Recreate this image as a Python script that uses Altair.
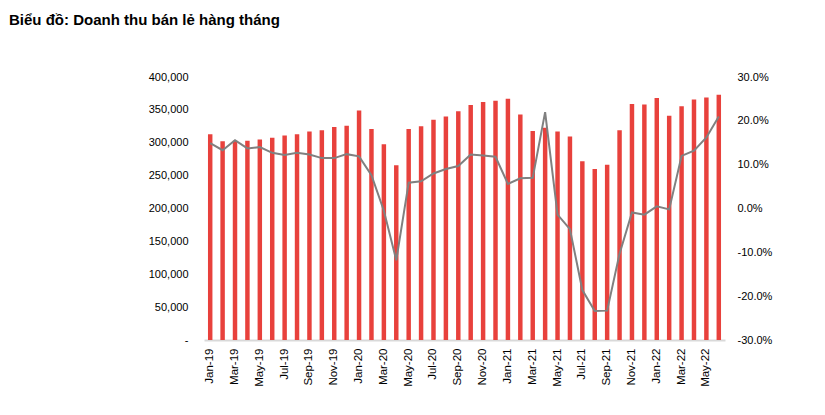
import altair as alt
import pandas as pd

months = ["Jan-19","Feb-19","Mar-19","Apr-19","May-19","Jun-19","Jul-19","Aug-19","Sep-19","Oct-19","Nov-19","Dec-19",
          "Jan-20","Feb-20","Mar-20","Apr-20","May-20","Jun-20","Jul-20","Aug-20","Sep-20","Oct-20","Nov-20","Dec-20",
          "Jan-21","Feb-21","Mar-21","Apr-21","May-21","Jun-21","Jul-21","Aug-21","Sep-21","Oct-21","Nov-21","Dec-21",
          "Jan-22","Feb-22","Mar-22","Apr-22","May-22","Jun-22"]

revenue = [313100, 302400, 303000, 303000, 305000, 307500, 311000, 313000, 317000, 319000, 324000, 326000,
           349000, 321000, 297800, 265600, 321000, 325000, 335000, 340000, 348000, 357600, 362000, 364000,
           367000, 343000, 318000, 323000, 317000, 309600, 272000, 260000, 266700, 319000, 359000, 358000,
           368000, 341000, 355600, 365800, 369000, 373000]

growth = [0.149, 0.133, 0.156, 0.137, 0.140, 0.127, 0.122, 0.127, 0.123, 0.115, 0.115, 0.124,
          0.119, 0.076, -0.005, -0.118, 0.059, 0.062, 0.080, 0.090, 0.097, 0.123, 0.121, 0.118,
          0.056, 0.069, 0.070, 0.220, -0.014, -0.047, -0.186, -0.234, -0.233, -0.103, -0.009, -0.014,
          0.005, -0.002, 0.120, 0.132, 0.162, 0.210]

tick_months = months[::2]

df = pd.DataFrame({"month": months, "revenue": revenue, "growth": growth})

FONT = "Liberation Sans, Arial, sans-serif"

x = alt.X("month:N", sort=None, title=None,
          scale=alt.Scale(paddingInner=0.64, paddingOuter=0.32),
          axis=alt.Axis(values=tick_months, labelAngle=-90, labelFontSize=11.5, labelFont=FONT,
                        labelColor="#000000", ticks=False, domainColor="#d9d9d9", domainWidth=2,
                        labelPadding=8, grid=False))

bars = alt.Chart(df).mark_bar(color="#e8413c").encode(
    x=x,
    y=alt.Y("revenue:Q", title=None,
            scale=alt.Scale(domain=[0, 400000], nice=False),
            axis=alt.Axis(values=[0, 50000, 100000, 150000, 200000, 250000, 300000, 350000, 400000],
                          labelExpr="datum.value == 0 ? '-\u00a0\u00a0\u00a0' : format(datum.value, ',')",
                          labelFontSize=11, labelFont=FONT, labelColor="#000000",
                          ticks=False, domain=False, grid=False, labelPadding=16))
)

line = alt.Chart(df).mark_line(color="#808080", strokeWidth=2).encode(
    x=x,
    y=alt.Y("growth:Q", title=None,
            scale=alt.Scale(domain=[-0.3, 0.3], nice=False),
            axis=alt.Axis(orient="right", values=[-0.3, -0.2, -0.1, 0.0, 0.1, 0.2, 0.3],
                          labelExpr="replace(format(datum.value, '.1%'), '\u2212', '-')",
                          labelFontSize=11, labelFont=FONT, labelColor="#000000",
                          ticks=False, domain=False, grid=False, labelPadding=12))
)

chart = alt.layer(bars, line).resolve_scale(y="independent").properties(
    width=521, height=263,
    autosize=alt.AutoSizeParams(type="none"),
    padding={"left": 196, "top": 69, "right": 90, "bottom": 60},
    title=alt.TitleParams("Biểu đồ: Doanh thu bán lẻ hàng tháng", anchor="start", frame="group",
                          dx=-195, offset=43, fontSize=15, font=FONT, fontWeight="bold", color="#000000")
).configure_view(stroke=None)

chart.save("out.html", embed_options={"renderer": "svg", "actions": False})
